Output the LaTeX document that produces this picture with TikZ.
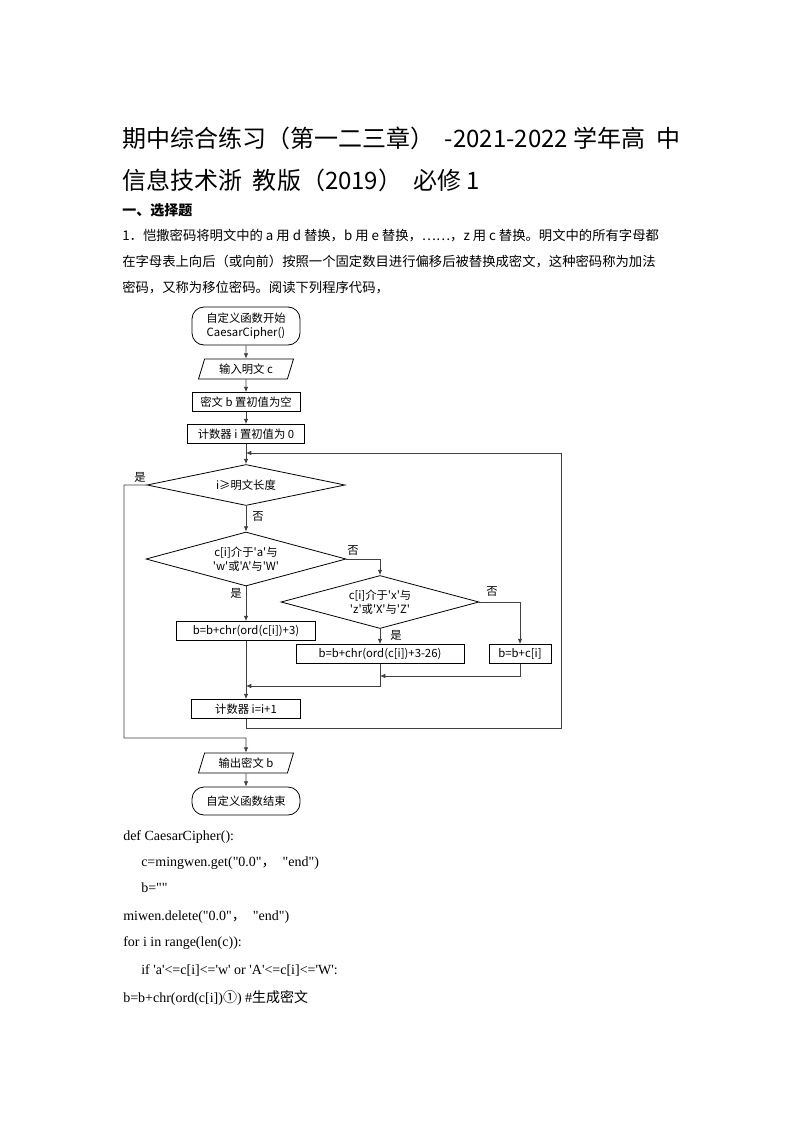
\documentclass[tikz,border=0pt]{standalone}
\usepackage{fontspec}
\setmainfont{Liberation Serif}[Ligatures=TeXOff]
\newfontfamily\cjk{Noto Sans CJK SC}[Ligatures=TeXOff]
\usetikzlibrary{shapes.geometric,arrows.meta}
\begin{document}
\begin{tikzpicture}[x=0.75pt,y=-0.75pt,
  txt/.style={anchor=base west,inner sep=0pt},
  fc/.style={font=\cjk\fontsize{8.5}{10}\selectfont,align=center,inner sep=0pt},
  box/.style={fc,draw,line width=0.6pt,minimum height=19*0.75pt},
  term/.style={fc,draw,line width=0.6pt,rounded corners=9pt},
  io/.style={fc,draw,line width=0.6pt,trapezium,trapezium left angle=60,trapezium right angle=120,minimum height=20*0.75pt,trapezium stretches body},
  dec/.style={fc,draw,line width=0.6pt,diamond,aspect=4.5},
  ln/.style={line width=0.6pt,draw=black!75},
  ar/.style={ln,-{Latex[length=4pt,width=3.5pt]}},
  lab/.style={font=\cjk\fontsize{8.5}{10}\selectfont,inner sep=0pt}]
\useasboundingbox (0,0) rectangle (794,1123);
\fill[white] (0,0) rectangle (794,1123);
% header
\node[txt,font=\cjk\fontsize{18}{20}\selectfont] at (122,148) {期中综合练习（第一二三章）\ \ -2021-2022 学年高\ \ 中};
\node[txt,font=\cjk\fontsize{18}{20}\selectfont] at (122,190) {信息技术浙\ \ 教版（2019）\ \ 必修 1};
\node[txt,font=\cjk\bfseries\fontsize{10.5}{12}\selectfont] at (122,216) {一、选择题};
\node[txt,font=\cjk\fontsize{10}{12}\selectfont] at (122,240) {1．恺撒密码将明文中的 a 用 d 替换，b 用 e 替换，……，z 用 c 替换。明文中的所有字母都};
\node[txt,font=\cjk\fontsize{10}{12}\selectfont] at (122,266) {在字母表上向后（或向前）按照一个固定数目进行偏移后被替换成密文，这种密码称为加法};
\node[txt,font=\cjk\fontsize{10}{12}\selectfont] at (122,292) {密码，又称为移位密码。阅读下列程序代码，};
% flowchart
\node[term,minimum width=108*0.75pt,minimum height=38*0.75pt] (s) at (246,326) {自定义函数开始\\CaesarCipher()};
\node[io,minimum width=95*0.75pt] (in) at (246,369) {输入明文 c};
\node[box,minimum width=108*0.75pt] (b0) at (246,402) {密文 b 置初值为空};
\node[box,minimum width=117*0.75pt] (i0) at (246,434) {计数器 i 置初值为 0};
\coordinate (j0) at (246,453);
\node[dec,minimum width=198*0.75pt,minimum height=41*0.75pt] (d1) at (246,485) {i≥明文长度};
\node[dec,minimum width=200*0.75pt,minimum height=54*0.75pt] (d2) at (246,559) {c[i]介于'a'与\\'w'或'A'与'W'};
\node[dec,minimum width=198*0.75pt,minimum height=53*0.75pt] (d3) at (380,602) {c[i]介于'x'与\\'z'或'X'与'Z'};
\node[box,minimum width=139*0.75pt] (p1) at (246,631) {b=b+chr(ord(c[i])+3)};
\node[box,minimum width=168*0.75pt] (p2) at (380,654) {b=b+chr(ord(c[i])+3-26)};
\node[box,minimum width=62*0.75pt] (p3) at (520,654) {b=b+c[i]};
\coordinate (j1) at (380,676);
\coordinate (j2) at (246,686);
\node[box,minimum width=109*0.75pt] (p4) at (246,709) {计数器 i=i+1};
\coordinate (j3) at (246,738);
\node[io,minimum width=95*0.75pt] (out) at (246,763) {输出密文 b};
\node[term,minimum width=108*0.75pt,minimum height=28*0.75pt] (e) at (246,801) {自定义函数结束};
\draw[ar] (s) -- (in);
\draw[ar] (in) -- (b0);
\draw[ar] (b0) -- (i0);
\draw[ar] (i0) -- (d1.north);
\draw[ar] (d1.south) -- (d2.north);
\draw[ar] (d2.south) -- (p1);
\draw[ar] (d2.east) -| (d3.north);
\draw[ar] (d3.south) -- (p2);
\draw[ar] (d3.east) -| (p3);
\draw[ar] (p3.south) |- (j1);
\draw[ar] (p2.south) |- (j2);
\draw[ar] (p1) -- (p4);
\draw[ar] (p4.south) -- ++(0,9) -| (561,453) -- (j0);
\draw[ar] (d1.west) -- (124,485) |- (j3) -- (out);
\draw[ar] (out) -- (e);
\node[lab] at (140,477) {是};
\node[lab] at (258,517) {否};
\node[lab] at (353,551) {否};
\node[lab] at (236,593) {是};
\node[lab] at (396,635) {是};
\node[lab] at (492,592) {否};
% code
\begin{scope}[every node/.style={txt,font=\fontsize{10.5}{12}\selectfont}]
\node at (123,840) {def CaesarCipher():};
\node at (141,866) {c=mingwen.get("0.0"{\cjk ，}\ \ "end")};
\node at (141,892) {b=""};
\node at (123,920) {miwen.delete("0.0"{\cjk ，}\ \ "end")};
\node at (123,946) {for i in range(len(c)):};
\node at (141,974) {if 'a'<=c[i]<='w' or 'A'<=c[i]<='W':};
\node at (123,1002) {b=b+chr(ord(c[i]){\cjk ①}) \#{\cjk 生成密文}};
\end{scope}
\end{tikzpicture}
\end{document}
